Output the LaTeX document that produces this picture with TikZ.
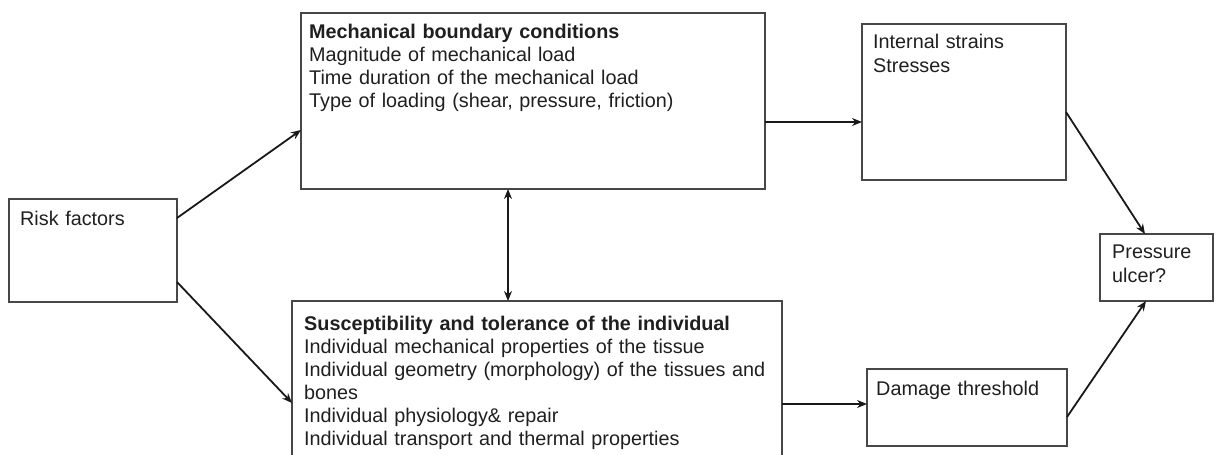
\documentclass[tikz,border=0pt]{standalone}
\usepackage{fontspec}
\setmainfont{Liberation Sans}
\usetikzlibrary{arrows.meta,calc}
\begin{document}
\begin{tikzpicture}[x=1pt,y=-1pt,
  box/.style={draw=black!72, line width=1.9pt, inner sep=0pt, outer sep=0pt, anchor=north west},
  txt/.style={anchor=base west, inner sep=0pt, align=left, text width=520pt,
              font=\fontsize{19.8}{23}\selectfont, text=black!88},
  txtwide/.style={txt, font=\fontsize{19.8}{24.5}\selectfont},
  link/.style={line width=1.8pt, draw=black!90, -{Stealth[length=10pt,width=8pt]}},
  twoway/.style={line width=1.8pt, draw=black!90, {Stealth[length=10pt,width=8pt]}-{Stealth[length=10pt,width=8pt]}}]
% page frame and clipping
\useasboundingbox (0,0) rectangle (1219,455);
\clip (0,0) rectangle (1219,455);

% boxes
\node[box, minimum width=168pt, minimum height=103pt] (risk) at (9,199) {};
\node[box, minimum width=464pt, minimum height=176pt] (mech) at (301,13) {};
\node[box, minimum width=490pt, minimum height=185pt] (susc) at (292,301) {};
\node[box, minimum width=204pt, minimum height=156pt] (strain) at (862,24) {};
\node[box, minimum width=200pt, minimum height=77pt] (damage) at (867,369) {};
\node[box, minimum width=113pt, minimum height=67pt] (ulcer) at (1100,234) {};

% box texts
\node[txt] (riskT) at (20,225) {Risk factors};
\node[txt] (mechT) at (309,38) {\textbf{Mechanical boundary conditions}\\
  Magnitude of mechanical load\\
  Time duration of the mechanical load\\
  Type of loading (shear, pressure, friction)};
\node[txt] (suscT) at (304,330) {\textbf{Susceptibility and tolerance of the individual}\\
  Individual mechanical properties of the tissue\\
  Individual geometry (morphology) of the tissues and\\
  bones\\
  Individual physiology\& repair\\
  Individual transport and thermal properties};
\node[txtwide] (strainT) at (873,48) {Internal strains\\Stresses};
\node[txt] (damageT) at (876,395) {Damage threshold};
\node[txtwide] (ulcerT) at (1112,258) {Pressure\\ulcer?};

% connectors
\coordinate (rm) at ($(risk.north east)+(0,19)$);
\coordinate (rs) at ($(risk.south east)+(0,-20)$);
\draw[link] (rm) -- ($(mech.north west)+(0,117)$);
\draw[link] (rs) -- ($(susc.north west)+(0,102)$);
\draw[twoway] ($(mech.south west)+(207,0)$) -- ($(susc.north west)+(216,0)$);
\coordinate (ms) at ($(mech.north east)+(0,109)$);
\draw[link] (ms) -- (ms -| strain.west);
\coordinate (sd) at ($(susc.north east)+(0,103)$);
\draw[link] (sd) -- (sd -| damage.west);
\draw[link] ($(strain.north east)+(0,88)$) -- ($(ulcer.north west)+(45,0)$);
\draw[link] ($(damage.north east)+(0,48)$) -- ($(ulcer.south west)+(46,0)$);
\end{tikzpicture}
\end{document}
